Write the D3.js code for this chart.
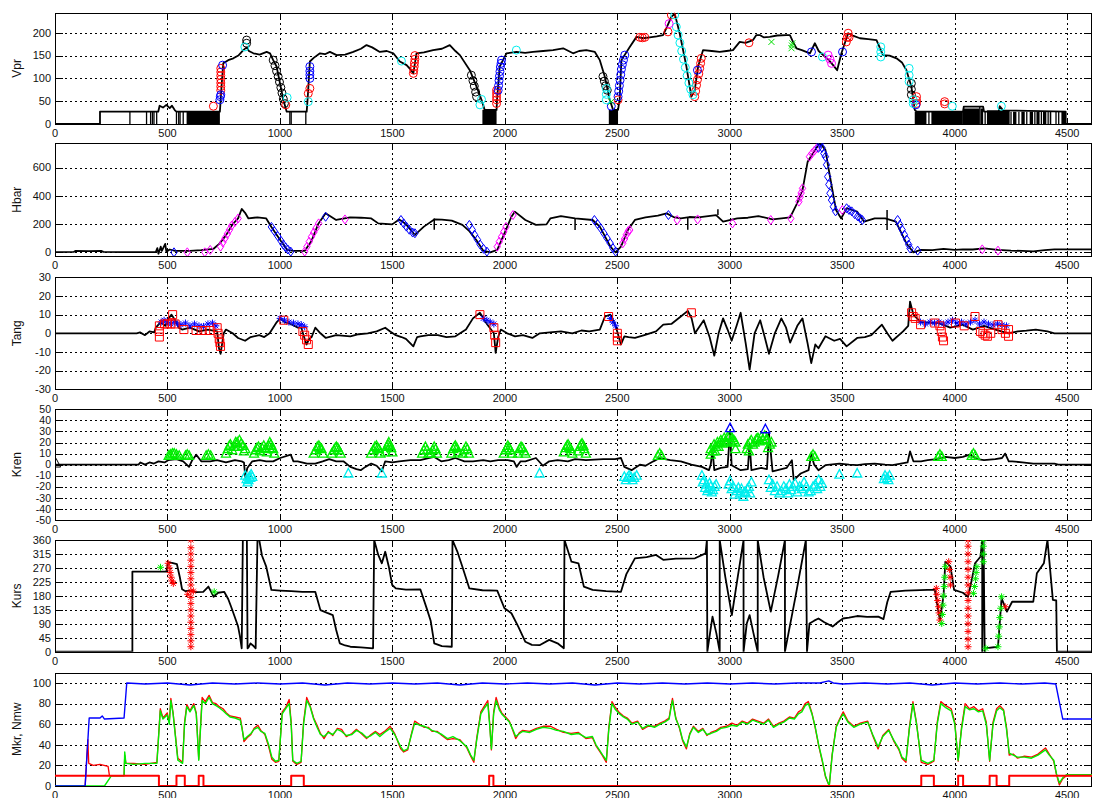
<!DOCTYPE html>
<html>
<head>
<meta charset="utf-8">
<script src="https://cdn.jsdelivr.net/npm/d3@7"></script>
<style>
body{margin:0;background:#fff}
text{font-family:"Liberation Sans",Arial,sans-serif;fill:#111}
</style>
</head>
<body>
<svg id="chart" width="1093" height="798"></svg>
<script>
// ---------- data ----------
const xTicks = [0,500,1000,1500,2000,2500,3000,3500,4000,4500];

const vprTicks = [0,50,100,150,200];
const hbarTicks = [0,200,400,600];
const tangTicks = [-30,-20,-10,0,10,20,30];
const krenTicks = [-50,-40,-30,-20,-10,0,10,20,30,40,50];
const kursTicks = [0,45,90,135,180,225,270,315,360];
const mkrTicks = [0,20,40,60,80,100];

const vprLine = [[0,0],[200,0],[200,27],[459,27],[465,40],[480,36],[495,42],[510,35],[520,40],[533,30],[540,27],[733,27],[740,80],[748,133],[770,140],[793,144],[815,150],[837,162],[852,168],[862,160],[882,155],[910,152],[941,158],[956,155],[970,140],[985,126],[1000,90],[1015,53],[1030,27],[1119,27],[1125,70],[1133,137],[1150,145],[1178,155],[1200,153],[1222,158],[1252,151],[1290,152],[1326,158],[1360,165],[1385,173],[1410,168],[1444,158],[1475,160],[1504,155],[1533,137],[1563,129],[1580,120],[1593,111],[1607,155],[1640,157],[1681,162],[1720,165],[1755,173],[1780,160],[1800,151],[1844,118],[1874,82],[1896,53],[1910,31],[1963,31],[1965,53],[1977,126],[2007,155],[2051,158],[2090,156],[2125,158],[2170,160],[2214,162],[2259,166],[2303,155],[2330,160],[2362,162],[2400,158],[2422,140],[2444,104],[2466,53],[2481,31],[2503,31],[2510,53],[2518,140],[2555,169],[2585,191],[2615,188],[2644,190],[2675,192],[2703,195],[2718,210],[2740,235],[2755,242],[2777,199],[2807,126],[2829,60],[2844,74],[2859,126],[2881,162],[2920,160],[2955,158],[2985,160],[3014,162],[3044,180],[3070,178],[3103,184],[3118,195],[3133,195],[3150,190],[3177,191],[3210,194],[3251,195],[3267,195],[3281,180],[3296,166],[3320,162],[3356,155],[3378,177],[3395,160],[3415,151],[3440,140],[3459,129],[3477,118],[3496,155],[3526,199],[3550,193],[3578,188],[3615,186],[3652,184],[3681,151],[3710,150],[3741,144],[3765,135],[3785,118],[3807,82],[3822,31],[3830,27],[4037,27],[4040,38],[4126,38],[4130,27],[4195,27],[4200,39],[4215,30],[4493,27],[4493,0],[4610,0]];
const vprDrops = [[333,27],[407,27],[425,27],[433,27],[440,27],[452,27],[540,27],[550,27],[556,27],[570,27],[1044,27],[1050,27],[1115,27],[3885,27],[4111,38],[4135,27],[4250,27],[4285,27],[4320,27],[4356,27],[4385,27],[4415,27],[4450,27],[4462,27]];
const vprBands = [[585,733,27],[1900,1963,31],[2462,2503,31],[3822,3874,27],[3896,4036,27],[4036,4108,34],[4114,4126,34],[4143,4244,30],[4259,4274,27],[4296,4311,27],[4333,4348,27],[4363,4377,27],[4392,4407,27],[4422,4429,27],[4474,4493,27]];
const vprRed = [[704,39],[737,74],[737,82],[737,90],[737,98],[737,106],[737,114],[737,122],[1026,42],[1126,67],[1133,78],[1593,111],[1595,118],[1597,126],[1598,134],[1600,142],[1600,150],[1963,45],[1963,53],[1963,60],[1963,67],[1963,74],[2503,53],[2600,190],[2611,189],[2622,190],[2725,202],[2740,239],[2844,60],[2848,72],[2852,85],[2856,97],[2862,110],[2866,122],[2870,133],[2873,144],[3085,178],[3518,180],[3522,190],[3526,199],[3530,190],[3830,45],[3830,52],[3830,60],[3955,44],[3955,49]];
const vprBlue = [[733,53],[735,60],[737,64],[745,129],[1133,100],[1133,108],[1133,116],[1133,126],[1970,74],[1972,84],[1974,95],[1976,105],[1978,115],[1980,125],[1983,133],[1985,140],[2473,39],[2503,60],[2506,72],[2509,84],[2512,96],[2515,108],[2518,120],[2522,130],[2527,140],[2533,151],[2856,118],[3363,158],[3501,158],[3827,42]];
const vprCyan = [[844,169],[1032,58],[1126,49],[1540,138],[1889,42],[1896,54],[2051,162],[2451,53],[2451,65],[2451,78],[2755,239],[2762,213],[2770,195],[2778,178],[2786,160],[2794,142],[2802,124],[2810,106],[2818,90],[2826,76],[2836,64],[3412,147],[3671,147],[3671,158],[3671,169],[3797,93],[3797,107],[3797,122],[3815,45],[3815,53],[3989,39],[4207,39]];
const vprBlack = [[852,177],[852,184],[970,140],[978,128],[985,116],[992,104],[998,92],[1004,80],[1009,68],[1015,55],[1020,45],[1851,107],[1858,95],[1864,83],[1870,70],[1874,60],[2436,104],[2442,94],[2448,84],[2455,74],[3807,64],[3807,76],[3807,89]];
const vprGreen = [[2473,49],[3185,180],[3274,166],[3276,172],[3278,177]];
const vprMagenta = [[2730,220],[3437,151],[3445,142],[3452,133]];

const hbarLine = [[0,2],[83,3],[90,10],[150,8],[207,10],[215,3],[300,2],[448,2],[455,30],[460,-10],[470,40],[475,10],[490,60],[495,5],[510,20],[534,10],[600,10],[650,15],[705,25],[730,60],[760,120],[790,200],[814,240],[830,307],[845,280],[860,240],[900,248],[939,240],[962,180],[1001,87],[1032,17],[1060,10],[1110,10],[1140,80],[1170,200],[1203,276],[1250,229],[1312,248],[1360,245],[1406,240],[1437,205],[1499,198],[1530,233],[1560,200],[1600,123],[1640,182],[1686,233],[1720,232],[1764,224],[1811,194],[1842,150],[1873,87],[1904,12],[1935,0],[1966,17],[1998,135],[2029,252],[2044,288],[2091,229],[2138,194],[2185,198],[2202,240],[2249,257],[2312,240],[2390,229],[2422,182],[2469,40],[2492,0],[2516,40],[2547,158],[2578,229],[2625,248],[2680,260],[2719,276],[2750,250],[2782,240],[2820,250],[2860,248],[2939,264],[2970,217],[3033,240],[3080,245],[3127,257],[3190,233],[3230,240],[3268,248],[3299,347],[3323,441],[3346,642],[3378,725],[3401,772],[3425,725],[3440,583],[3456,441],[3472,300],[3495,240],[3519,312],[3566,288],[3597,217],[3644,240],[3691,240],[3738,217],[3785,64],[3816,0],[3848,17],[3900,15],[3950,25],[4000,18],[4036,21],[4080,20],[4130,28],[4192,17],[4250,12],[4300,10],[4349,7],[4400,15],[4443,21],[4610,21]];
const hbarSpikes = [[1686,240,160],[2312,240,158],[2813,245,160],[2947,264,305],[3699,300,158]];
const hbarBlue = [[529,0],[962,180],[975,150],[990,115],[1005,80],[1015,55],[1025,35],[1035,20],[1048,5],[1203,252],[1538,229],[1550,205],[1562,182],[1575,160],[1590,140],[1600,135],[1842,194],[1855,160],[1865,125],[1878,90],[1890,55],[1905,25],[1920,5],[2398,229],[2412,200],[2426,170],[2440,135],[2454,100],[2468,65],[2480,30],[2492,5],[2727,264],[3394,740],[3401,772],[3410,740],[3418,700],[3425,677],[3430,620],[3435,536],[3440,480],[3445,418],[3452,370],[3460,323],[3470,290],[3519,312],[3530,300],[3542,290],[3555,270],[3568,255],[3580,240],[3589,229],[3746,229],[3756,195],[3766,160],[3776,125],[3786,90],[3795,55],[3801,28],[3835,12]];
const hbarMagenta = [[588,0],[666,0],[690,17],[736,40],[746,70],[756,100],[766,130],[776,160],[786,190],[800,215],[814,240],[1110,5],[1120,40],[1130,75],[1140,110],[1150,140],[1160,170],[1172,205],[1289,233],[1966,40],[1975,75],[1985,110],[1995,145],[2005,180],[2036,264],[2524,64],[2532,95],[2540,125],[2548,150],[2555,158],[2766,229],[2857,233],[3012,205],[3182,229],[3271,240],[3307,359],[3312,390],[3317,420],[3323,453],[3354,677],[3365,700],[3376,720],[3386,736],[3500,300],[4122,21],[4192,12]];

const tangLine = [[0,0],[363,0],[378,0.5],[400,-1],[420,1],[441,0.5],[448,3],[470,6],[490,4],[505,8],[518,10],[534,7],[550,3],[565,2],[600,3],[640,1],[680,2],[721,1],[729,-8],[736,-11],[750,0],[760,2],[790,0],[814,-2.5],[845,-4],[870,-2],[908,-1],[930,-2],[954,0],[986,6],[1001,8],[1020,6],[1048,5],[1080,3],[1095,3],[1110,-3],[1118,-6],[1130,-3],[1141,-2],[1157,3],[1180,0],[1204,-2.5],[1250,-1],[1313,-1.6],[1350,-0.5],[1390,0],[1430,1],[1468,3],[1490,1],[1515,-1],[1540,-2],[1560,-3],[1593,-7],[1610,-2],[1624,-1.6],[1660,-1],[1702,-1],[1740,-2],[1780,-1.6],[1827,2],[1858,8],[1889,11],[1920,5],[1951,0],[1959,-10.5],[1970,-2],[1982,2],[2010,0],[2045,-1.6],[2080,-1],[2122,-2.5],[2155,0],[2200,0.5],[2249,1],[2300,0],[2340,1.5],[2375,1],[2422,2],[2445,9],[2469,10],[2492,4],[2516,-6],[2531,-1.6],[2550,-2],[2578,-2.5],[2620,-1],[2672,1],[2704,4.6],[2740,5],[2782,9],[2813,12],[2830,8],[2845,0],[2884,7],[2910,-2],[2931,-12],[2950,0],[2970,8],[2990,2],[3008,-4],[3030,4],[3048,11],[3070,-5],[3088,-19.5],[3110,0],[3135,7],[3155,-2],[3174,-11],[3200,0],[3229,8],[3250,3],[3268,-5],[3300,4],[3323,8],[3345,-5],[3362,-16],[3380,-6],[3394,-8],[3425,-1.6],[3464,-4],[3490,-3],[3519,-7],[3566,-2.5],[3600,-2],[3629,-1],[3676,4.6],[3700,0],[3723,-4],[3770,1],[3793,4],[3801,17],[3816,10],[3848,6],[3926,5.5],[3980,3],[4036,4.6],[4080,2],[4130,4],[4180,2],[4239,0],[4280,1],[4318,1.4],[4360,2],[4412,1],[4443,0],[4610,0]];
const tangRed = [[464,-2],[464,1],[464,4],[487,5],[500,5],[515,5],[523,10],[534,5],[573,2],[627,1.5],[650,1.5],[670,1.5],[690,1.5],[721,3],[725,0],[730,-3],[733,-5],[736,-7],[1017,7],[1102,1],[1110,-1],[1118,-3.5],[1126,-6],[1889,10],[1951,3],[1955,-1],[1959,-5],[2461,9],[2500,0],[2500,-2],[2500,-4],[2829,11],[3808,11],[3815,9],[3824,8],[3848,4.6],[3911,5.5],[3934,4],[3940,1],[3945,-2],[3950,-4],[4003,5.5],[4042,4],[4090,9],[4114,1],[4125,0],[4135,-1],[4145,-1.6],[4160,0],[4192,4.6],[4210,2],[4225,0],[4239,-1.6],[4239,2]];
const tangBlue = [[472,6],[485,7],[500,6],[515,5],[530,6],[545,5],[560,4.6],[580,5.5],[600,4],[620,5],[640,4],[660,3.7],[680,5],[700,5.5],[715,4],[1001,8],[1020,7],[1040,6],[1060,5.5],[1080,5],[1095,4.6],[1110,3.5],[1904,8],[1920,7],[1935,6],[1951,5],[2469,8],[2480,6],[2492,4],[3848,6],[3870,5],[3890,6],[3910,5.5],[3930,6],[3950,5],[3970,6],[3990,7],[4010,5.5],[4030,6],[4050,5],[4070,6],[4090,7],[4110,5],[4130,6],[4150,5],[4170,4.5],[4190,5],[4210,4.5],[4230,4]];

const krenLine = [[0,0],[371,0],[380,2],[400,0],[420,2],[440,1],[460,3],[487,2],[503,4],[540,5],[570,3],[596,-2],[610,4],[628,9],[650,3],[690,3],[720,4],[760,2],[800,4],[830,3],[840,2],[846,-11],[855,-3],[877,3],[910,4],[939,3],[970,3],[1001,6],[1048,9],[1060,3],[1079,3],[1120,1],[1157,1],[1190,3],[1219,5],[1250,3],[1282,3],[1313,-2],[1340,-4],[1359,-5],[1380,-2],[1406,1],[1430,-1],[1453,-6],[1468,3],[1500,2],[1530,3],[1580,4],[1624,4],[1660,6],[1686,7],[1717,3],[1750,4],[1780,6],[1820,3],[1858,3],[1904,4],[1935,3],[1970,4],[2013,4],[2040,3],[2052,-2],[2070,3],[2091,3],[2138,6],[2169,-1],[2197,3],[2234,4],[2280,3],[2312,5],[2360,4],[2437,5],[2490,5],[2516,6],[2531,-2],[2563,-5],[2600,0],[2625,-1],[2660,3],[2688,6],[2735,4],[2782,3],[2829,0],[2876,-2],[2907,-5],[2915,0],[2923,13],[2931,-5],[2960,-3],[2990,-2],[3001,31],[3008,-0.5],[3048,-5],[3080,-4],[3088,19],[3096,-5],[3140,-3],[3165,-4],[3174,28],[3190,-6],[3230,-4],[3252,-3],[3276,4],[3284,-14],[3315,-8],[3350,-5],[3362,9],[3375,0],[3394,-5],[3425,-0.5],[3487,1],[3530,0],[3566,-0.5],[3600,0.5],[3644,1],[3690,0],[3723,-0.5],[3760,1],[3790,2],[3801,12],[3816,3],[3850,3],[3879,4],[3920,5],[3958,7],[4000,6],[4036,7],[4067,9],[4100,5],[4130,4],[4180,5],[4210,6],[4224,10],[4240,3],[4255,3],[4300,2],[4349,1],[4400,1],[4443,1],[4460,0],[4610,0]];
const krenGreen = [[505,8],[513,9],[522,10],[530,10],[540,9],[552,8],[580,8],[588,9],[596,8],[672,8],[682,9],[692,8],[760,10],[768,14],[775,17],[780,18],[788,13],[795,16],[803,20],[810,20],[815,16],[820,22],[828,19],[835,17],[840,12],[846,14],[885,10],[892,13],[898,15],[905,16],[912,12],[920,15],[928,17],[935,14],[942,11],[950,17],[955,20],[960,18],[965,15],[970,14],[975,10],[1150,10],[1160,13],[1166,16],[1173,17],[1180,15],[1185,14],[1192,10],[1230,10],[1240,13],[1246,15],[1251,16],[1257,15],[1262,13],[1270,10],[1405,10],[1415,13],[1422,16],[1429,17],[1435,15],[1440,14],[1447,10],[1468,11],[1475,16],[1480,18],[1484,20],[1490,17],[1495,15],[1500,11],[1632,10],[1640,13],[1647,16],[1653,13],[1660,10],[1672,10],[1680,13],[1686,16],[1692,14],[1698,10],[1762,10],[1770,14],[1776,16],[1780,17],[1786,15],[1792,11],[1812,10],[1820,13],[1827,16],[1833,14],[1840,10],[1995,10],[2003,13],[2008,15],[2013,17],[2019,15],[2025,13],[2032,10],[2058,10],[2065,14],[2072,16],[2078,15],[2085,12],[2092,10],[2262,11],[2270,15],[2276,17],[2281,18],[2287,16],[2292,14],[2300,10],[2325,12],[2333,16],[2339,18],[2343,19],[2349,17],[2353,14],[2360,10],[2680,8],[2688,10],[2696,8],[2915,9],[2915,14],[2925,12],[2930,18],[2935,12],[2940,16],[2945,20],[2950,16],[2955,20],[2960,22],[2968,19],[2975,24],[2980,21],[2985,20],[2990,25],[3000,26],[3005,21],[3010,24],[3018,22],[3025,20],[3025,14],[3075,14],[3080,18],[3085,12],[3090,20],[3095,22],[3103,18],[3110,20],[3118,23],[3125,24],[3132,21],[3140,25],[3148,22],[3155,26],[3160,22],[3166,23],[3170,15],[3178,18],[3185,20],[3362,7],[3370,9],[3378,7],[3926,7],[3934,9],[3942,7],[4075,8],[4083,10],[4091,8]];
const krenBlue = [[3001,33],[3158,32]];
const krenCyan = [[846,-10],[852,-13],[856,-16],[860,-14],[864,-11],[868,-12],[872,-9],[877,-11],[1304,-8],[1453,-8],[2154,-8],[2531,-11],[2538,-14],[2545,-12],[2552,-10],[2560,-11],[2567,-14],[2575,-12],[2586,-10],[2876,-10],[2880,-16],[2885,-14],[2890,-21],[2895,-18],[2900,-24],[2905,-22],[2910,-17],[2915,-20],[2920,-25],[2925,-23],[2932,-20],[2939,-18],[2995,-18],[3001,-15],[3008,-22],[3015,-20],[3022,-27],[3030,-24],[3038,-21],[3045,-26],[3052,-22],[3060,-29],[3065,-25],[3070,-25],[3078,-22],[3085,-20],[3090,-26],[3096,-16],[3174,-14],[3182,-21],[3190,-18],[3200,-24],[3210,-20],[3220,-26],[3230,-24],[3240,-20],[3250,-22],[3258,-26],[3265,-18],[3272,-23],[3280,-20],[3290,-17],[3300,-25],[3310,-20],[3320,-22],[3330,-16],[3340,-20],[3350,-25],[3360,-24],[3370,-20],[3380,-18],[3388,-22],[3395,-14],[3402,-20],[3409,-17],[3487,-9],[3566,-8],[3685,-13],[3690,-10],[3699,-12],[3705,-14],[3710,-10]];
const krenBlack = [[5,1]];

const kursLine = [[0,0],[344,0],[344,258],[495,258],[503,288],[520,286],[542,282],[555,240],[565,201],[580,195],[596,197],[630,192],[659,193],[682,210],[700,185],[705,177],[725,190],[752,193],[770,170],[783,145],[800,110],[814,81],[822,50],[830,11],[835,360],[853,360],[856,11],[861,15],[869,27],[880,20],[892,11],[900,360],[908,360],[920,310],[939,274],[962,199],[1001,197],[1050,195],[1100,193],[1157,193],[1180,134],[1210,125],[1235,118],[1250,70],[1266,27],[1290,20],[1313,16],[1360,14],[1414,11],[1419,360],[1437,312],[1453,285],[1468,322],[1484,274],[1499,215],[1515,204],[1560,200],[1624,201],[1655,134],[1670,100],[1686,27],[1720,18],[1764,16],[1767,360],[1790,320],[1811,274],[1842,204],[1900,198],[1966,197],[1998,140],[2029,124],[2060,80],[2091,32],[2120,22],[2154,21],[2197,38],[2234,27],[2262,11],[2265,360],[2296,290],[2327,285],[2351,210],[2390,199],[2450,195],[2516,193],[2540,250],[2578,301],[2630,305],[2672,312],[2704,296],[2760,300],[2845,301],[2892,317],[2898,360],[2900,0],[2912,60],[2923,113],[2940,60],[2955,0],[2955,360],[2980,240],[3009,118],[3035,240],[3061,360],[3061,0],[3075,90],[3088,118],[3105,60],[3124,0],[3124,360],[3150,240],[3182,129],[3215,245],[3245,360],[3245,0],[3290,170],[3338,360],[3343,0],[3354,91],[3375,100],[3394,107],[3420,95],[3457,81],[3480,95],[3503,107],[3530,110],[3566,115],[3610,112],[3660,113],[3683,105],[3700,160],[3715,193],[3780,197],[3879,199],[3911,199],[3934,102],[3950,180],[3958,290],[3981,274],[3997,199],[4036,190],[4059,177],[4075,230],[4090,285],[4114,306],[4122,360],[4122,0],[4128,360],[4133,0],[4133,11],[4192,16],[4208,172],[4232,129],[4255,161],[4349,161],[4365,253],[4396,285],[4412,360],[4436,167],[4451,165],[4454,0],[4610,0]];
const kursRed = [[503,285],[508,270],[512,255],[516,240],[520,228],[526,220],[604,16],[604,35],[604,55],[604,75],[604,95],[604,115],[604,135],[604,155],[604,175],[604,195],[604,215],[604,235],[604,255],[604,275],[604,295],[604,315],[604,335],[604,360],[590,185],[615,195],[3918,204],[3920,185],[3924,165],[3928,145],[3930,125],[3934,102],[3973,290],[3976,265],[3979,240],[3981,215],[4059,16],[4059,40],[4059,65],[4059,90],[4059,115],[4059,140],[4059,165],[4059,190],[4059,215],[4059,240],[4059,265],[4059,290],[4059,315],[4059,340],[4059,360],[4224,145]];
const kursGreen = [[469,272],[708,193],[3942,91],[3945,120],[3948,150],[3950,180],[3953,210],[3955,240],[3958,274],[4083,188],[4088,210],[4092,235],[4095,255],[4098,274],[4127,290],[4127,315],[4127,340],[4127,360],[4138,11],[4192,16],[4195,50],[4198,80],[4200,110],[4204,140],[4208,177]];

const mkrBlue = [[0,0],[134,0],[152,66],[200,66],[210,68],[220,65],[307,66],[319,100],[400,99],[500,100],[600,98],[700,100],[800,99],[900,100],[1000,99],[1100,100],[1200,98],[1300,100],[1400,99],[1500,100],[1600,99],[1700,100],[1800,98],[1900,100],[2000,99],[2100,100],[2200,99],[2300,100],[2400,98],[2500,100],[2600,99],[2700,100],[2800,99],[2900,100],[3000,99],[3100,100],[3200,99],[3300,100],[3400,100],[3440,102],[3460,100],[3500,99],[3600,100],[3700,99],[3800,100],[3900,98],[4000,100],[4100,99],[4200,100],[4300,99],[4400,100],[4449,99],[4480,65],[4610,65]];
const mkrStep = [[0,10],[462,10],[462,0],[540,0],[540,10],[577,10],[577,0],[639,0],[639,10],[660,10],[660,0],[1050,0],[1050,10],[1106,10],[1106,0],[1930,0],[1930,10],[1949,10],[1949,0],[3851,0],[3851,10],[3907,10],[3907,0],[4015,0],[4015,10],[4037,10],[4037,0],[4155,0],[4155,10],[4186,10],[4186,0],[4242,0],[4242,10],[4610,10]];
const mkrGreen = [[0,0],[220,0],[251,10],[307,10],[310,33],[315,22],[350,21],[400,22],[453,22],[468,73],[480,65],[499,69],[508,60],[515,83],[525,70],[546,25],[567,22],[576,60],[586,77],[600,72],[617,78],[628,70],[639,25],[648,60],[654,83],[668,80],[685,86],[700,80],[716,78],[730,76],[747,73],[762,70],[778,67],[800,66],[824,64],[832,55],[840,45],[855,48],[871,51],[885,55],[902,57],[915,53],[933,51],[950,40],[964,28],[980,24],[995,25],[1010,70],[1025,75],[1041,80],[1050,60],[1057,25],[1075,22],[1094,24],[1105,60],[1119,83],[1134,77],[1150,65],[1165,57],[1180,50],[1196,48],[1215,52],[1235,50],[1255,55],[1274,53],[1295,49],[1320,50],[1340,54],[1366,51],[1385,47],[1405,49],[1425,52],[1444,48],[1465,52],[1490,56],[1510,50],[1537,38],[1550,34],[1568,36],[1585,50],[1599,61],[1620,59],[1640,58],[1660,56],[1676,54],[1700,52],[1720,50],[1745,46],[1769,48],[1800,44],[1831,38],[1848,30],[1862,25],[1875,45],[1893,70],[1910,76],[1924,80],[1932,60],[1940,36],[1950,70],[1961,83],[1975,74],[1986,70],[2003,66],[2020,62],[2035,55],[2048,48],[2065,51],[2079,53],[2110,52],[2140,55],[2170,57],[2203,56],[2230,54],[2260,53],[2295,50],[2327,51],[2360,47],[2389,48],[2405,40],[2420,35],[2435,30],[2451,25],[2462,55],[2476,80],[2492,74],[2510,70],[2527,67],[2544,65],[2565,60],[2590,62],[2612,56],[2637,59],[2665,57],[2690,60],[2710,62],[2730,65],[2738,75],[2745,83],[2760,65],[2776,57],[2790,45],[2807,38],[2822,50],[2838,57],[2860,52],[2880,55],[2898,50],[2916,51],[2940,53],[2960,56],[2985,57],[3009,59],[3032,58],[3055,62],[3078,60],[3101,64],[3125,62],[3150,60],[3172,64],[3194,57],[3218,60],[3240,62],[3265,66],[3287,65],[3305,70],[3320,72],[3335,78],[3349,80],[3365,70],[3380,57],[3395,40],[3411,25],[3425,10],[3442,0],[3455,30],[3473,57],[3490,65],[3504,70],[3525,62],[3551,57],[3580,60],[3613,62],[3635,50],[3659,38],[3680,48],[3706,54],[3730,44],[3752,36],[3765,28],[3783,25],[3798,55],[3814,80],[3830,60],[3851,25],[3880,22],[3907,25],[3922,60],[3938,80],[3960,76],[3984,73],[4000,60],[4015,25],[4030,55],[4046,77],[4065,74],[4085,75],[4105,72],[4124,73],[4140,60],[4155,25],[4170,60],[4186,73],[4200,76],[4217,73],[4230,55],[4242,32],[4260,30],[4279,28],[4310,28],[4341,27],[4370,30],[4403,35],[4420,30],[4440,25],[4452,12],[4465,3],[4480,8],[4496,11],[4610,11]];
const mkrRed = [[134,0],[146,45],[150,22],[170,20],[200,21],[236,19],[242,10],[307,10],[310,30],[315,22],[350,22],[400,21],[453,23],[468,75],[480,66],[499,71],[508,62],[515,85],[525,71],[546,27],[567,23],[576,62],[586,79],[600,73],[617,80],[628,71],[639,26],[648,62],[654,86],[668,82],[685,88],[700,81],[716,80],[730,77],[747,75],[762,71],[778,68],[800,67],[824,66],[832,56],[840,43],[855,47],[871,50],[885,56],[902,59],[915,54],[933,50],[950,38],[964,26],[980,23],[995,24],[1010,72],[1025,76],[1041,84],[1050,62],[1057,24],[1075,21],[1094,23],[1105,62],[1119,86],[1134,78],[1150,66],[1165,59],[1180,51],[1196,46],[1215,53],[1235,49],[1255,56],[1274,55],[1295,48],[1320,51],[1340,55],[1366,50],[1385,46],[1405,50],[1425,53],[1444,50],[1465,53],[1490,58],[1510,51],[1537,36],[1550,33],[1568,35],[1585,51],[1599,63],[1620,60],[1640,57],[1660,57],[1676,53],[1700,53],[1720,49],[1745,45],[1769,46],[1800,45],[1831,37],[1848,29],[1862,23],[1875,47],[1893,72],[1910,78],[1924,83],[1932,62],[1940,35],[1950,72],[1961,86],[1975,76],[1986,71],[2003,67],[2020,63],[2035,54],[2048,46],[2065,52],[2079,54],[2110,53],[2140,56],[2170,58],[2203,58],[2230,55],[2260,52],[2295,51],[2327,52],[2360,46],[2389,47],[2405,39],[2420,34],[2435,29],[2451,23],[2462,57],[2476,82],[2492,76],[2510,71],[2527,68],[2544,66],[2565,61],[2590,63],[2612,55],[2637,58],[2665,58],[2690,61],[2710,63],[2730,66],[2738,77],[2745,85],[2760,66],[2776,56],[2790,44],[2807,36],[2822,51],[2838,58],[2860,53],[2880,56],[2898,49],[2916,52],[2940,54],[2960,57],[2985,58],[3009,61],[3032,59],[3055,63],[3078,61],[3101,65],[3125,63],[3150,61],[3172,65],[3194,58],[3218,61],[3240,63],[3265,67],[3287,66],[3305,72],[3320,74],[3335,80],[3349,82],[3365,71],[3380,56],[3395,39],[3411,24],[3425,9],[3442,0],[3455,31],[3473,58],[3490,66],[3504,72],[3525,63],[3551,58],[3580,61],[3613,63],[3635,49],[3659,36],[3680,49],[3706,55],[3730,43],[3752,35],[3765,27],[3783,23],[3798,57],[3814,82],[3830,61],[3851,23],[3880,21],[3907,24],[3922,62],[3938,82],[3960,78],[3984,75],[4000,62],[4015,24],[4030,57],[4046,80],[4065,75],[4085,77],[4105,73],[4124,75],[4140,62],[4155,24],[4170,62],[4186,75],[4200,78],[4217,74],[4230,57],[4242,30],[4260,31],[4279,27],[4310,29],[4341,28],[4370,31],[4403,37],[4420,31],[4440,24],[4452,11],[4465,1],[4480,7],[4496,10],[4610,10]];

// ---------- layout ----------
const svg = d3.select("#chart");
const x = d3.scaleLinear().domain([0,4610]).range([55,1092]);

const panels = [
  {label:"Vpr", top:12.7, h:111.3, dom:[0,244], ticks:vprTicks},
  {label:"Hbar", top:143.3, h:112.7, dom:[-26,772], ticks:hbarTicks},
  {label:"Tang", top:277.3, h:112, dom:[-30,30], ticks:tangTicks},
  {label:"Kren", top:409.3, h:110.7, dom:[-50,50], ticks:krenTicks, fs:10.5},
  {label:"Kurs", top:540, h:111.7, dom:[0,360], ticks:kursTicks},
  {label:"Mkr, Nmw", top:672.7, h:113.3, dom:[0,110], ticks:mkrTicks}
];

const setPanel = (p,i) => {
  const y = d3.scaleLinear().domain(p.dom).range([p.top+p.h, p.top]);
  const g = svg.append("g");
  const x0 = x.range()[0], x1 = x.range()[1], y0 = p.top+p.h, y1 = p.top;

  g.append("clipPath").attr("id","clip"+i)
    .append("rect").attr("x",x0).attr("y",y1).attr("width",x1-x0).attr("height",p.h);

  // dotted grid
  const grid = g.append("g").attr("stroke","#000").attr("stroke-width",1)
    .attr("stroke-dasharray","2,3").attr("shape-rendering","crispEdges");
  xTicks.forEach(t => grid.append("line").attr("x1",Math.round(x(t))+0.5).attr("x2",Math.round(x(t))+0.5).attr("y1",y1).attr("y2",y0));
  p.ticks.forEach(t => grid.append("line").attr("x1",x0).attr("x2",x1).attr("y1",Math.round(y(t))+0.5).attr("y2",Math.round(y(t))+0.5));

  // ticks point inward
  const tk = g.append("g").attr("stroke","#000").attr("stroke-width",1).attr("shape-rendering","crispEdges");
  xTicks.forEach(t => {
    const xx = Math.round(x(t))+0.5;
    tk.append("line").attr("x1",xx).attr("x2",xx).attr("y1",y0).attr("y2",y0-5);
    tk.append("line").attr("x1",xx).attr("x2",xx).attr("y1",y1).attr("y2",y1+5);
  });
  p.ticks.forEach(t => {
    const yy = Math.round(y(t))+0.5;
    tk.append("line").attr("x1",x0).attr("x2",x0+8).attr("y1",yy).attr("y2",yy);
    tk.append("line").attr("x1",x1).attr("x2",x1-8).attr("y1",yy).attr("y2",yy);
  });

  g.selectAll(".xl").data(xTicks).enter().append("text")
    .attr("x",d=>x(d)).attr("y",y0+13).attr("text-anchor","middle")
    .attr("font-size",11).text(d=>d);
  g.selectAll(".yl").data(p.ticks).enter().append("text")
    .attr("x",51).attr("y",d=>y(d)).attr("dy","0.35em").attr("text-anchor","end")
    .attr("font-size",p.fs||11).text(d=>d);

  g.append("text").attr("transform",`translate(21,${p.top+p.h/2}) rotate(-90)`)
    .attr("text-anchor","middle").attr("font-size",12).text(p.label);

  const plot = svg.append("g").attr("clip-path",`url(#clip${i})`);
  return {g, plot, y, box:[x0,y1,x1-x0,p.h]};
};

const drawBox = (g,box) => {
  g.append("rect").attr("x",box[0]+0.5).attr("y",Math.round(box[1])+0.5)
    .attr("width",box[2]-1).attr("height",Math.round(box[3]))
    .attr("fill","none").attr("stroke","#000").attr("stroke-width",1).attr("shape-rendering","crispEdges");
};

const lineGen = (y) => d3.line().x(d=>x(d[0])).y(d=>y(d[1]));

const drawLine = (plot,y,data,color,w) => {
  plot.append("path").datum(data).attr("d",lineGen(y)).attr("fill","none")
    .attr("stroke",color).attr("stroke-width",w).attr("stroke-linejoin","round");
};

const shapes = {
  circle: "M4,0A4,4 0 1,1 -4,0A4,4 0 1,1 4,0Z",
  diamond: "M0,-4.5L3.2,0L0,4.5L-3.2,0Z",
  square: "M-4,-4H4V4H-4Z",
  triangle: "M0,-5L4.5,3.5H-4.5Z",
  star: "M-3.5,0H3.5M0,-3.5V3.5M-2.5,-2.5L2.5,2.5M-2.5,2.5L2.5,-2.5",
  cross: "M-3,-3L3,3M-3,3L3,-3"
};

const drawMarkers = (plot,y,data,shape,color,w) => {
  plot.append("g").selectAll("path").data(data).enter().append("path")
    .attr("transform",d=>`translate(${x(d[0])},${y(d[1])})`)
    .attr("d",shapes[shape]).attr("fill","none").attr("stroke",color).attr("stroke-width",w||1);
};

// ---------- Vpr ----------
let P = setPanel(panels[0],0);
P.plot.selectAll(".band").data(vprBands).enter().append("rect")
  .attr("x",d=>x(d[0])).attr("width",d=>x(d[1])-x(d[0]))
  .attr("y",d=>P.y(d[2])).attr("height",d=>P.y(0)-P.y(d[2])).attr("fill","#000");
P.plot.selectAll(".drop").data(vprDrops).enter().append("line")
  .attr("x1",d=>x(d[0])).attr("x2",d=>x(d[0])).attr("y1",d=>P.y(d[1])).attr("y2",P.y(0))
  .attr("stroke","#000").attr("stroke-width",1.3);
drawLine(P.plot,P.y,vprLine,"#000",1.8);
drawMarkers(P.plot,P.y,vprBlack,"circle","#000");
drawMarkers(P.plot,P.y,vprRed,"circle","#f00");
drawMarkers(P.plot,P.y,vprBlue,"circle","#00f");
drawMarkers(P.plot,P.y,vprCyan,"circle","#0ee");
drawMarkers(P.plot,P.y,vprGreen,"cross","#0d0");
drawMarkers(P.plot,P.y,vprMagenta,"circle","#f0f");
drawBox(P.g,P.box);

// ---------- Hbar ----------
P = setPanel(panels[1],1);
drawLine(P.plot,P.y,hbarLine,"#000",1.8);
P.plot.selectAll(".spike").data(hbarSpikes).enter().append("line")
  .attr("x1",d=>x(d[0])).attr("x2",d=>x(d[0])).attr("y1",d=>P.y(d[1])).attr("y2",d=>P.y(d[2]))
  .attr("stroke","#000").attr("stroke-width",1.5);
drawMarkers(P.plot,P.y,hbarMagenta,"diamond","#f0f");
drawMarkers(P.plot,P.y,hbarBlue,"diamond","#00f");
drawBox(P.g,P.box);

// ---------- Tang ----------
P = setPanel(panels[2],2);
drawLine(P.plot,P.y,tangLine,"#000",1.8);
drawMarkers(P.plot,P.y,tangBlue,"star","#00f");
drawMarkers(P.plot,P.y,tangRed,"square","#f00");
drawBox(P.g,P.box);

// ---------- Kren ----------
P = setPanel(panels[3],3);
drawLine(P.plot,P.y,krenLine,"#000",1.8);
drawMarkers(P.plot,P.y,krenGreen,"triangle","#0e0",1.3);
drawMarkers(P.plot,P.y,krenCyan,"triangle","#0ee",1.3);
drawMarkers(P.plot,P.y,krenBlue,"triangle","#00f",1.3);
drawMarkers(P.plot,P.y,krenBlack,"triangle","#000");
drawBox(P.g,P.box);

// ---------- Kurs ----------
P = setPanel(panels[4],4);
drawLine(P.plot,P.y,kursLine,"#000",1.8);
drawMarkers(P.plot,P.y,kursRed,"star","#f00");
drawMarkers(P.plot,P.y,kursGreen,"star","#0e0");
drawBox(P.g,P.box);

// ---------- Mkr, Nmw ----------
P = setPanel(panels[5],5);
drawLine(P.plot,P.y,mkrRed,"#f00",1.3);
drawLine(P.plot,P.y,mkrGreen,"#0e0",1.4);
drawLine(P.plot,P.y,mkrStep,"#f00",2);
drawLine(P.plot,P.y,mkrBlue,"#00f",1.4);
drawBox(P.g,P.box);
</script>
</body>
</html>
